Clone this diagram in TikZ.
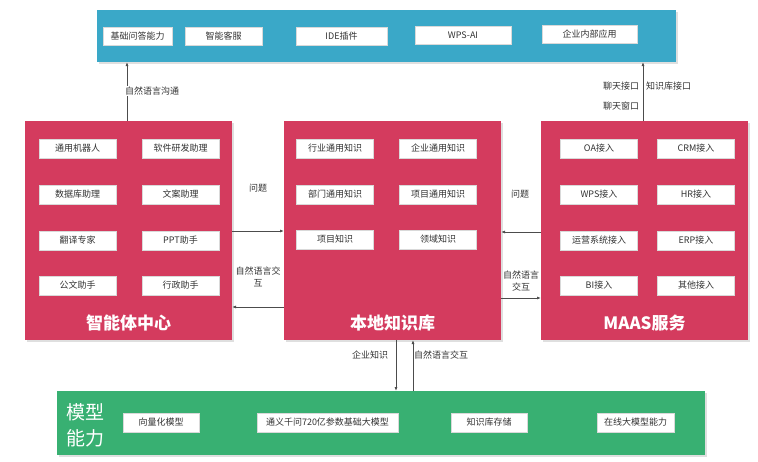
\documentclass[tikz,border=0pt]{standalone}
\usepackage{fontspec}
\setmainfont{Noto Sans CJK SC}
\usetikzlibrary{shadows,arrows.meta}
\definecolor{topblue}{HTML}{3AA8C8}
\definecolor{boxred}{HTML}{D43B5E}
\definecolor{boxgreen}{HTML}{38B072}
\definecolor{txt}{HTML}{333333}
\begin{document}
\begin{tikzpicture}[x=1pt,y=-1pt,
  panel/.style={draw=none,drop shadow={shadow xshift=2pt,shadow yshift=-2pt,opacity=0.25}},
  item/.style={fill=white,draw=white!85!black,line width=0.4pt,font=\fontsize{9}{10}\selectfont,text=txt,inner sep=0pt},
  lbl/.style={font=\fontsize{9}{12}\selectfont,text=txt,align=center,inner sep=1pt},
  title/.style={font=\fontsize{17}{19}\selectfont\bfseries,text=white,inner sep=0pt},
  arr/.style={draw=black!70,line width=0.8pt,-{Latex[length=4pt,width=3pt]}}]
\useasboundingbox (0,0) rectangle (758,461);
% top bar
\path[fill=topblue,panel] (97,10) rectangle (676,62);
\node[item,minimum width=69pt,minimum height=18pt] (t1) at (137.5,36) {基础问答能力};
\node[item,minimum width=77pt,minimum height=18pt] (t2) at (223.5,36) {智能客服};
\node[item,minimum width=91pt,minimum height=18pt] (t3) at (341.5,36) {IDE插件};
\node[item,minimum width=96pt,minimum height=18pt] (t4) at (463,35) {WPS-AI};
\node[item,minimum width=95pt,minimum height=18pt] (t5) at (589.5,34) {企业内部应用};
% red panels
\path[fill=boxred,panel] (25,121) rectangle (232,340);
\path[fill=boxred,panel] (284,121) rectangle (501,340);
\path[fill=boxred,panel] (541,121) rectangle (748,340);
\node[title] (agent) at (128.5,323) {智能体中心};
\node[title] (kb) at (392.5,323) {本地知识库};
\node[title] (maas) at (644.5,323) {MAAS服务};
\tikzset{ritem/.style={item,minimum width=77pt,minimum height=19pt}}
% left items
\node[ritem] at (77.5,148.5) {通用机器人};
\node[ritem] at (180.5,148.5) {软件研发助理};
\node[ritem] at (77.5,194.5) {数据库助理};
\node[ritem] at (180.5,194.5) {文案助理};
\node[ritem] at (77.5,240.5) {翻译专家};
\node[ritem] at (180.5,240.5) {PPT助手};
\node[ritem] at (77.5,285.5) {公文助手};
\node[ritem] at (180.5,285.5) {行政助手};
% middle items
\node[ritem] at (335,148.5) {行业通用知识};
\node[ritem] at (438,148.5) {企业通用知识};
\node[ritem] at (335,194.5) {部门通用知识};
\node[ritem] at (438,194.5) {项目通用知识};
\node[ritem] at (335,239.5) {项目知识};
\node[ritem] at (438,239.5) {领域知识};
% right items
\node[ritem] at (599,148.5) {OA接入};
\node[ritem] at (696,148.5) {CRM接入};
\node[ritem] at (599,194.5) {WPS接入};
\node[ritem] at (696,194.5) {HR接入};
\node[ritem] at (599,240.5) {运营系统接入};
\node[ritem] at (696,240.5) {ERP接入};
\node[ritem] at (599,285.5) {BI接入};
\node[ritem] at (696,285.5) {其他接入};
% green bar
\path[fill=boxgreen,panel] (57,391) rectangle (705,455);
\node[font=\fontsize{19}{26}\selectfont,text=white,align=left,inner sep=0pt] (mcap) at (85,425) {模型\\能力};
\tikzset{gitem/.style={item,minimum height=19pt}}
\node[gitem,minimum width=76pt] at (161,422.5) {向量化模型};
\node[gitem,minimum width=141pt] at (327.5,422.5) {通义千问720亿参数基础大模型};
\node[gitem,minimum width=76pt] at (489,422.5) {知识库存储};
\node[gitem,minimum width=77pt] at (635.5,422.5) {在线大模型能力};
% coordinates for connectors
\coordinate (aT) at (127,121);
\coordinate (bT) at (127,62);
\coordinate (mT) at (643,121);
\coordinate (mB) at (643,62);
\coordinate (l1) at (232,231); \coordinate (c1) at (284,231);
\coordinate (c2) at (284,307); \coordinate (l2) at (232,307);
\coordinate (r1) at (541,232); \coordinate (c3) at (501,232);
\coordinate (c4) at (501,298); \coordinate (r2) at (541,298);
\coordinate (kd) at (396,340); \coordinate (gd) at (396,391);
\coordinate (gu) at (413,391); \coordinate (ku) at (413,340);
\draw[arr] (aT) -- (bT);
\draw[arr] (mT) -- (mB);
\draw[arr] (l1) -- (c1);
\draw[arr] (c2) -- (l2);
\draw[arr] (r1) -- (c3);
\draw[arr] (c4) -- (r2);
\draw[arr] (kd) -- (gd);
\draw[arr] (gu) -- (ku);
% labels
\node[lbl,fill=white] at (152,91) {自然语言沟通};
\node[lbl] at (621,86) {聊天接口};
\node[lbl,anchor=west] at (645,86) {知识库接口};
\node[lbl] at (621,106) {聊天窗口};
\node[lbl] at (258,188) {问题};
\node[lbl] at (258,277) {自然语言交\\互};
\node[lbl] at (520,194) {问题};
\node[lbl] at (521,281) {自然语言\\交互};
\node[lbl] at (370,355) {企业知识};
\node[lbl] at (441,355) {自然语言交互};
\end{tikzpicture}
\end{document}
